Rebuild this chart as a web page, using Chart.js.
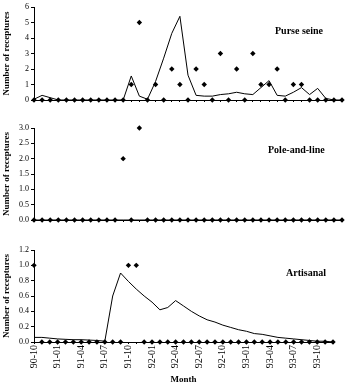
<!DOCTYPE html>
<html>
<head>
<meta charset="utf-8">
<script src="https://cdn.jsdelivr.net/npm/chart.js@4.4.0/dist/chart.umd.min.js"></script>
<style>
  body { margin: 0; background: #fff; }
  #wrap { position: relative; width: 346px; height: 387px; }
  canvas { position: absolute; left: 0; }
  .gear { position: absolute; font: bold 10px "Liberation Serif", serif; color: #000; white-space: nowrap; }
</style>
</head>
<body>
<div id="wrap">
  <canvas id="purse" width="346" height="110" style="top:0"></canvas>
  <canvas id="pole" width="346" height="120" style="top:110px"></canvas>
  <canvas id="artisanal" width="346" height="157" style="top:230px"></canvas>
  <div class="gear" style="left:275px;top:25px">Purse seine</div>
  <div class="gear" style="left:268px;top:144px">Pole-and-line</div>
  <div class="gear" style="left:286px;top:267px">Artisanal</div>
</div>
<script>
const months = ['90-10', '90-11', '90-12',
    '91-01', '91-02', '91-03', '91-04', '91-05', '91-06', '91-07', '91-08', '91-09', '91-10', '91-11', '91-12',
    '92-01', '92-02', '92-03', '92-04', '92-05', '92-06', '92-07', '92-08', '92-09', '92-10', '92-11', '92-12',
    '93-01', '93-02', '93-03', '93-04', '93-05', '93-06', '93-07', '93-08', '93-09', '93-10', '93-11', '93-12'];

// observed recaptures (diamonds) and expected curve (line), one value per month
const purseSeen = [0, 0, 0, 0, 0, 0, 0, 0, 0, 0, 0, 0, 1, 5, 0, 1, 0, 2, 1, 0, 2, 1, 0, 3, 0, 2,
    0, 3, 1, 1, 2, 0, 1, 1, 0, 0, 0, 0, 0];
const purseTrend = [0.05, 0.3, 0.15, 0, 0, 0, 0, 0, 0, 0, 0, 0, 1.55, 0.25, 0.05, 1.2, 2.7, 4.3, 5.4,
    1.6, 0.3, 0.25, 0.25, 0.35, 0.4, 0.5, 0.4, 0.35, 0.8, 1.25, 0.3, 0.25, 0.5, 0.8, 0.35, 0.75, 0.1, 0, 0];

const poleSeen = [0, 0, 0, 0, 0, 0, 0, 0, 0, 0, 0, 2, 0, 3, 0, 0, 0, 0, 0, 0, 0, 0, 0, 0, 0, 0,
    0, 0, 0, 0, 0, 0, 0, 0, 0, 0, 0, 0, 0];
const poleTrend = [0, 0, 0, 0, 0, 0, 0, 0, 0, 0, 0, 0, 0, 0, 0, 0, 0, 0, 0, 0, 0, 0, 0, 0, 0, 0,
    0, 0, 0, 0, 0, 0, 0, 0, 0, 0, 0, 0, 0];

const artSeen = [1, 0, 0, 0, 0, 0, 0, 0, 0, 0, 0, 0, 1, 1, 0, 0, 0, 0, 0, 0, 0, 0, 0, 0, 0, 0,
    0, 0, 0, 0, 0, 0, 0, 0, 0, 0, 0, 0, 0];
const artTrend = [0.06, 0.06, 0.05, 0.04, 0.035, 0.03, 0.03, 0.025, 0.02, 0.01, 0.6, 0.9, 0.79, 0.69,
    0.6, 0.52, 0.42, 0.45, 0.54, 0.47, 0.4, 0.34, 0.29, 0.26, 0.22, 0.19, 0.16, 0.14, 0.11, 0.1,
    0.08, 0.06, 0.05, 0.04, 0.03, 0.02, 0.01, 0.01, 0];

const serif = 'Liberation Serif';

function makeChart(id, seen, trend, yMax, yStep, decimals, topPad, xHeight, showX) {
    return new Chart(document.getElementById(id), {
        type: 'line',
        data: {
            labels: months,
            datasets: [
                {
                    data: trend,
                    borderColor: '#000',
                    borderWidth: 1,
                    pointRadius: 0,
                    tension: 0,
                    fill: false
                },
                {
                    data: seen,
                    showLine: false,
                    pointStyle: 'rectRot',
                    pointRadius: 2.7,
                    pointBackgroundColor: '#000',
                    pointBorderColor: '#000',
                    pointBorderWidth: 0,
                    clip: false
                }
            ]
        },
        options: {
            responsive: false,
            animation: false,
            layout: { padding: { top: topPad, right: 3, left: 0, bottom: 0 } },
            plugins: { legend: { display: false }, tooltip: { enabled: false } },
            scales: {
                x: {
                    offset: false,
                    grid: { drawOnChartArea: false, tickLength: 2, color: '#000' },
                    border: { color: '#000' },
                    ticks: {
                        display: showX,
                        autoSkip: false,
                        maxRotation: 90,
                        minRotation: 90,
                        padding: 1,
                        color: '#000',
                        font: { family: serif, size: 10 },
                        callback: (v, i) => i % 3 === 0 ? months[i] : ''
                    },
                    title: {
                        display: showX,
                        text: 'Month',
                        color: '#000',
                        padding: 2,
                        font: { family: serif, size: 9, weight: 'bold' }
                    },
                    afterFit: s => { s.height = xHeight; }
                },
                y: {
                    min: 0,
                    max: yMax,
                    grid: { drawOnChartArea: false, tickLength: 3, color: '#000' },
                    border: { color: '#000' },
                    ticks: {
                        stepSize: yStep,
                        padding: 2,
                        color: '#000',
                        font: { family: serif, size: 8 },
                        callback: v => v.toFixed(decimals)
                    },
                    title: {
                        display: true,
                        text: 'Number of receptures',
                        color: '#000',
                        padding: 1,
                        font: { family: serif, size: 9, weight: 'bold' }
                    },
                    afterFit: s => { s.width = 34; }
                }
            }
        }
    });
}

makeChart('purse', purseSeen, purseTrend, 6, 1, 0, 7, 10, false);
makeChart('pole', poleSeen, poleTrend, 3, 0.5, 1, 18, 10, false);
makeChart('artisanal', artSeen, artTrend, 1.2, 0.2, 1, 20, 45, true);
</script>
</body>
</html>
